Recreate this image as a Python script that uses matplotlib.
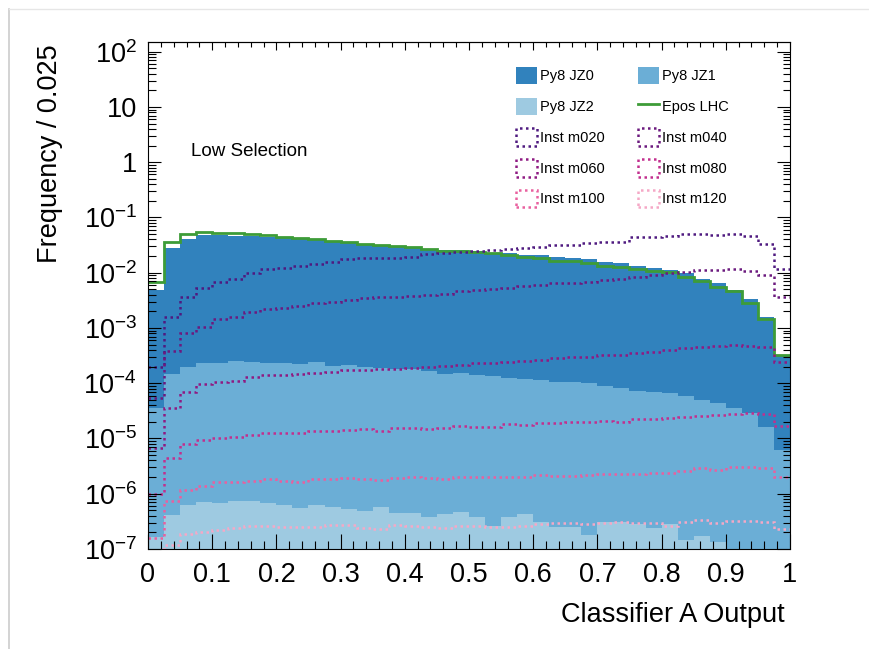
import numpy as np
import matplotlib
matplotlib.use('Agg')
import matplotlib.pyplot as plt
from matplotlib.patches import Patch
from matplotlib.lines import Line2D
from matplotlib.ticker import FixedLocator, MultipleLocator, LogLocator, NullFormatter

plt.rcParams['font.family'] = ['Liberation Sans', 'DejaVu Sans']
plt.rcParams['mathtext.fontset'] = 'custom'
plt.rcParams['mathtext.rm'] = 'Liberation Sans'
plt.rcParams['mathtext.default'] = 'regular'

# classifier output binning: 40 bins of width 0.025
bin_edges = np.linspace(0.0, 1.0, 41)

py8_jz0 = [4.9e-3, 0.0277, 0.0408, 0.0482, 0.0480, 0.0468, 0.0462, 0.0449, 0.0438, 0.0408,
           0.0391, 0.0371, 0.0350, 0.0331, 0.0318, 0.0305, 0.0284, 0.0272, 0.0258, 0.0258,
           0.0251, 0.0225, 0.0225, 0.0212, 0.0209, 0.0190, 0.0182, 0.0175, 0.0158, 0.0152,
           0.0134, 0.0123, 0.0112, 9.8e-3, 7.6e-3, 6.4e-3, 4.9e-3, 3.4e-3, 1.6e-3, 3.25e-4]
py8_jz1 = [3.5e-5, 1.47e-4, 2.0e-4, 2.36e-4, 2.36e-4, 2.5e-4, 2.45e-4, 2.36e-4, 2.36e-4, 2.23e-4,
           2.45e-4, 2.08e-4, 2.14e-4, 2.0e-4, 1.87e-4, 1.79e-4, 1.79e-4, 1.69e-4, 1.47e-4, 1.51e-4,
           1.41e-4, 1.35e-4, 1.26e-4, 1.21e-4, 1.15e-4, 1.07e-4, 1.04e-4, 1.0e-4, 9.0e-5, 8.3e-5,
           7.2e-5, 6.9e-5, 6.6e-5, 5.9e-5, 5.0e-5, 4.45e-5, 3.5e-5, 2.86e-5, 1.6e-5, 6.2e-6]
py8_jz2 = [1.67e-7, 4.1e-7, 6.3e-7, 7.2e-7, 6.7e-7, 7.4e-7, 7.4e-7, 6.7e-7, 6.3e-7, 5.5e-7,
           6.3e-7, 5.7e-7, 5.2e-7, 4.9e-7, 5.8e-7, 4.55e-7, 4.4e-7, 3.85e-7, 4.3e-7, 4.7e-7,
           3.85e-7, 2.6e-7, 3.85e-7, 4.3e-7, 3.1e-7, 2.5e-7, 2.5e-7, 1.8e-7, 3.1e-7, 3.1e-7,
           2.8e-7, 2.4e-7, 2.8e-7, 1.46e-7, 1.72e-7, 1.36e-7, 0.0, 0.0, 0.0, 0.0]
epos_lhc = [6.9e-3, 0.0356, 0.0502, 0.0546, 0.0531, 0.0518, 0.0502, 0.0476, 0.0449, 0.0420,
            0.0403, 0.0375, 0.0360, 0.0331, 0.0314, 0.0305, 0.0288, 0.0265, 0.0247, 0.0247,
            0.0237, 0.0231, 0.0212, 0.0195, 0.0182, 0.0165, 0.0163, 0.0148, 0.0132, 0.0129,
            0.0117, 0.0109, 0.0102, 8.3e-3, 7.2e-3, 5.6e-3, 4.7e-3, 2.8e-3, 1.44e-3, 3.3e-4]

inst_m020 = [2.0e-4, 1.56e-3, 3.6e-3, 5.2e-3, 6.9e-3, 7.8e-3, 0.0100, 0.0115, 0.0120, 0.0132,
             0.0144, 0.0158, 0.0175, 0.0182, 0.0187, 0.0187, 0.0195, 0.0216, 0.0231, 0.0234,
             0.0247, 0.0258, 0.0269, 0.0284, 0.0296, 0.0318, 0.0318, 0.0350, 0.0365, 0.0365,
             0.0438, 0.0438, 0.0462, 0.0497, 0.0497, 0.0482, 0.0502, 0.0462, 0.0331, 0.0115]
inst_m040 = [5.35e-5, 3.9e-4, 8.0e-4, 1.05e-3, 1.44e-3, 1.6e-3, 1.97e-3, 2.18e-3, 2.27e-3, 2.5e-3,
             2.8e-3, 3.0e-3, 3.2e-3, 3.44e-3, 3.6e-3, 3.6e-3, 3.8e-3, 3.95e-3, 4.1e-3, 4.7e-3,
             4.9e-3, 5.1e-3, 5.4e-3, 5.75e-3, 5.9e-3, 6.4e-3, 6.4e-3, 6.9e-3, 7.4e-3, 7.6e-3,
             8.3e-3, 9.1e-3, 9.8e-3, 0.0105, 0.0112, 0.0112, 0.0115, 0.0109, 9.1e-3, 3.7e-3]
inst_m060 = [6.7e-6, 3.5e-5, 7.0e-5, 9.7e-5, 1.04e-4, 1.1e-4, 1.28e-4, 1.41e-4, 1.41e-4, 1.47e-4,
             1.51e-4, 1.62e-4, 1.74e-4, 1.74e-4, 1.83e-4, 1.83e-4, 1.91e-4, 2.0e-4, 2.05e-4, 2.14e-4,
             2.3e-4, 2.36e-4, 2.45e-4, 2.56e-4, 2.64e-4, 2.83e-4, 2.95e-4, 3.03e-4, 3.25e-4, 3.25e-4,
             3.57e-4, 3.72e-4, 4.0e-4, 4.4e-4, 4.6e-4, 4.7e-4, 4.9e-4, 4.7e-4, 4.6e-4, 2.45e-4]
inst_m080 = [1.0e-6, 4.5e-6, 7.9e-6, 9.4e-6, 1.01e-5, 1.08e-5, 1.16e-5, 1.24e-5, 1.24e-5, 1.27e-5,
             1.37e-5, 1.37e-5, 1.43e-5, 1.47e-5, 1.37e-5, 1.53e-5, 1.53e-5, 1.48e-5, 1.53e-5, 1.69e-5,
             1.64e-5, 1.64e-5, 1.83e-5, 1.76e-5, 1.88e-5, 1.93e-5, 1.95e-5, 1.99e-5, 2.07e-5, 2.03e-5,
             2.23e-5, 2.25e-5, 2.32e-5, 2.48e-5, 2.59e-5, 2.67e-5, 2.78e-5, 2.86e-5, 2.78e-5, 1.69e-5]
inst_m100 = [1.56e-7, 7.4e-7, 1.17e-6, 1.4e-6, 1.61e-6, 1.66e-6, 1.73e-6, 1.83e-6, 1.73e-6, 1.66e-6,
             1.83e-6, 1.85e-6, 1.91e-6, 1.83e-6, 1.77e-6, 1.91e-6, 1.99e-6, 1.91e-6, 1.83e-6, 1.97e-6,
             1.97e-6, 2.04e-6, 1.97e-6, 2.04e-6, 2.19e-6, 2.1e-6, 2.1e-6, 2.19e-6, 2.28e-6, 2.32e-6,
             2.32e-6, 2.41e-6, 2.41e-6, 2.62e-6, 2.89e-6, 2.7e-6, 3.09e-6, 3.05e-6, 2.89e-6, 1.99e-6]
inst_m120 = [9.0e-8, 1.18e-7, 1.87e-7, 2.06e-7, 2.21e-7, 2.37e-7, 2.61e-7, 2.61e-7, 2.47e-7, 2.47e-7,
             2.54e-7, 2.72e-7, 2.72e-7, 2.37e-7, 2.28e-7, 2.72e-7, 2.61e-7, 2.47e-7, 2.37e-7, 2.61e-7,
             2.61e-7, 2.54e-7, 2.54e-7, 2.61e-7, 2.84e-7, 2.92e-7, 2.92e-7, 2.84e-7, 3.0e-7, 3.08e-7,
             3.0e-7, 3.0e-7, 2.61e-7, 3.13e-7, 3.35e-7, 3.0e-7, 3.21e-7, 3.21e-7, 3.13e-7, 2.28e-7]

bkg_labels = ['Py8 JZ0', 'Py8 JZ1', 'Py8 JZ2']
inst_labels = ['Inst m020', 'Inst m040', 'Inst m060', 'Inst m080', 'Inst m100', 'Inst m120']
x_tick_values = [0.0, 0.1, 0.2, 0.3, 0.4, 0.5, 0.6, 0.7, 0.8, 0.9, 1.0]
x_tick_labels = ['0', '0.1', '0.2', '0.3', '0.4', '0.5', '0.6', '0.7', '0.8', '0.9', '1']
y_tick_values = [1e-7, 1e-6, 1e-5, 1e-4, 1e-3, 1e-2, 1e-1, 1.0, 10.0, 100.0]
y_tick_labels = ['$10^{-7}$', '$10^{-6}$', '$10^{-5}$', '$10^{-4}$', '$10^{-3}$',
                 '$10^{-2}$', '$10^{-1}$', '1', '10', '$10^{2}$']

bkg_colors = ['#3182bd', '#6baed6', '#9ecae1']
epos_color = '#3d9c38'
inst_colors = ['#4f1a80', '#6c1a7f', '#8f1a82', '#c22f8e', '#e9609f', '#f5a8c6']
dot_style = (0, (1, 1.4))

fig = plt.figure(figsize=(8.7, 6.49), dpi=100)
ax = fig.add_axes([148 / 870, 100 / 649, 642 / 870, 507 / 649])

floor = 1e-9
bkg = [py8_jz0, py8_jz1, py8_jz2]
for vals, col in zip(bkg, bkg_colors):
    ax.stairs(np.clip(vals, floor, None), bin_edges, baseline=floor, fill=True,
              color=col, lw=0)

ax.stairs(epos_lhc, bin_edges, baseline=None, color=epos_color, lw=2)

inst = [inst_m020, inst_m040, inst_m060, inst_m080, inst_m100, inst_m120]
for vals, col in zip(inst, inst_colors):
    ax.stairs(vals, bin_edges, baseline=None, color=col, lw=1.8, ls=dot_style)

ax.set_yscale('log')
ax.set_xlim(0, 1)
ax.set_ylim(1e-7, 150)

# axis ticks, ROOT-like: inside, all four sides
ax.xaxis.set_major_locator(FixedLocator(x_tick_values))
ax.set_xticklabels(x_tick_labels)
ax.xaxis.set_minor_locator(MultipleLocator(0.02))
ax.yaxis.set_major_locator(FixedLocator(y_tick_values))
ax.set_yticklabels(y_tick_labels)
ax.yaxis.set_minor_locator(LogLocator(base=10, subs=np.arange(2, 10), numticks=30))
ax.yaxis.set_minor_formatter(NullFormatter())

ax.tick_params(axis='x', which='both', direction='in', top=False, labelsize=19.5,
               pad=9, width=0.8)
ax.tick_params(axis='x', which='major', length=10.8)
ax.tick_params(axis='x', which='minor', length=5.5)
ax.tick_params(axis='y', which='both', direction='in', right=True, labelsize=19.5,
               pad=8, width=0.8)
ax.tick_params(axis='y', which='major', length=9.4)
ax.tick_params(axis='y', which='minor', length=5.4)

top = ax.secondary_xaxis('top')
top.xaxis.set_major_locator(FixedLocator(x_tick_values))
top.xaxis.set_minor_locator(MultipleLocator(0.02))
top.tick_params(which='both', direction='in', labeltop=False, width=0.8)
top.tick_params(which='major', length=5.8)
top.tick_params(which='minor', length=3.6)

for sp in ax.spines.values():
    sp.set_linewidth(0.8)

ax.set_xlabel('Classifier A Output', fontsize=19.5, loc='right')
ax.xaxis.set_label_coords(0.992, -0.105)
ax.set_ylabel('Frequency / 0.025', fontsize=19.5, loc='top')
ax.yaxis.set_label_coords(-0.132, 0.995)

fig.text(191 / 870, 1 - 151 / 649, 'Low Selection', fontsize=13.5, va='center')

h_jz = [Patch(facecolor=c, edgecolor='none', label=l) for c, l in zip(bkg_colors, bkg_labels)]
h_epos = Line2D([], [], color=epos_color, lw=2, label='Epos LHC')
h_inst = [Patch(facecolor='none', edgecolor=c, lw=1.8, ls=dot_style, label=l)
          for c, l in zip(inst_colors, inst_labels)]
# legend filled row by row: left column then right column
left_col = [h_jz[0], h_jz[2], h_inst[0], h_inst[2], h_inst[4]]
right_col = [h_jz[1], h_epos, h_inst[1], h_inst[3], h_inst[5]]

ax.legend(handles=left_col + right_col, ncol=2, frameon=False, fontsize=10.5,
          loc='upper left', bbox_to_anchor=(516 / 870, 1 - 67 / 649),
          bbox_transform=fig.transFigure, borderpad=0, borderaxespad=0,
          handlelength=1.45, handleheight=1.45, handletextpad=0.2,
          labelspacing=0.92, columnspacing=2.25)

# page card outline around the canvas
fig.add_artist(Line2D([9 / 870, 9 / 870], [0, 1 - 9 / 649], transform=fig.transFigure,
                      color='#cccccc', lw=1.2))
fig.add_artist(Line2D([9 / 870, 1], [1 - 9 / 649, 1 - 9 / 649], transform=fig.transFigure,
                      color='#e6e6e6', lw=1.0))

fig.savefig('out.png', dpi=100)
